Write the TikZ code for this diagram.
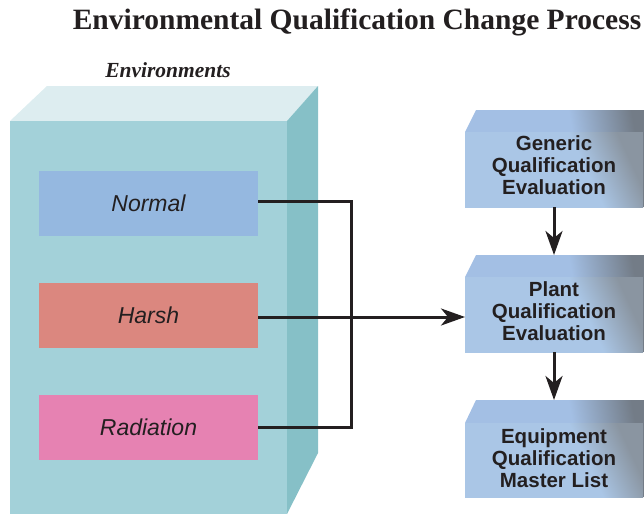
\documentclass[tikz,border=0pt]{standalone}
\usepackage{fontspec}
\setmainfont{Liberation Serif}
\setsansfont{Liberation Sans}
\usetikzlibrary{arrows.meta}
\definecolor{frontc}{HTML}{A3D1D9}
\definecolor{topc}{HTML}{DDEDF0}
\definecolor{sidec}{HTML}{86C0C7}
\definecolor{normalc}{HTML}{95B8E0}
\definecolor{harshc}{HTML}{DB877F}
\definecolor{radc}{HTML}{E682B2}
\definecolor{boxblue}{HTML}{AAC6E6}
\definecolor{boxtop}{HTML}{A3BFE4}
\definecolor{boxgrey}{HTML}{737C87}
\definecolor{boxgreyb}{HTML}{8A95A1}
\definecolor{txt}{HTML}{231F20}
\pgfdeclarehorizontalshading{frontshade}{100bp}{color(0bp)=(boxblue); color(25bp)=(boxblue); color(60bp)=(boxblue); color(75bp)=(boxgreyb); color(100bp)=(boxgreyb)}
\pgfdeclarehorizontalshading{topshade}{100bp}{color(0bp)=(boxtop); color(25bp)=(boxtop); color(55bp)=(boxtop); color(75bp)=(boxgrey); color(100bp)=(boxgrey)}
\tikzset{
  envbox/.style={minimum width=219pt,minimum height=65pt,inner sep=0pt,
    font=\sffamily\itshape\fontsize{23}{26}\selectfont,text=txt},
  lbl/.style={align=center,font=\sffamily\bfseries\fontsize{20.5}{22}\selectfont,text=txt},
  conn/.style={line width=3pt,draw=txt},
  arr/.style={conn,-{Stealth[length=24pt,width=17pt,inset=7pt]}},
}
\newcommand{\procbox}[3]{% top y of top face, front top, front bottom
  \shade[shading=topshade,shading angle=10] (465,#2) -- (476,#1) -- (644,#1) -- (644,#2) -- cycle;
  \shade[shading=frontshade,shading angle=25] (465,#2) rectangle (643,#3);
  \fill[boxgrey] (643,#2) rectangle (644,#3);
}
\begin{document}
\begin{tikzpicture}[x=1pt,y=-1pt]
\useasboundingbox (0,0) rectangle (644,514);
\begin{scope}
\clip (0,0) rectangle (644,514);
% left 3D box
\fill[topc] (10,121) -- (47,86) -- (318,86) -- (287,121) -- cycle;
\fill[sidec] (287,121) -- (318,86) -- (318,453) -- (287,514) -- cycle;
\fill[frontc] (10,121) rectangle (287,514);
\node[envbox,fill=normalc] (normal) at (148.5,203.5) {Normal};
\node[envbox,fill=harshc] (harsh) at (148.5,315.5) {Harsh};
\node[envbox,fill=radc] (rad) at (148.5,427.5) {Radiation};
% process boxes
\procbox{110}{132}{207}
\procbox{255}{277}{352}
\procbox{400}{423}{497}
\end{scope}
\node[font=\bfseries\fontsize{29.5}{32}\selectfont,text=txt] (title) at (357,22) {Environmental Qualification Change Process};
\node[font=\bfseries\itshape\fontsize{21.5}{24}\selectfont,text=txt] (envs) at (168,70) {Environments};
\node[lbl,inner sep=0pt] (gen) at (554,165) {Generic\\Qualification\\Evaluation};
\node[lbl,inner sep=0pt] (plant) at (554,311) {Plant\\Qualification\\Evaluation};
\node[lbl,inner sep=0pt] (eq) at (554,458) {Equipment\\Qualification\\Master List};
\coordinate (j) at (351,317);
\coordinate (genb) at (554,207);
\coordinate (plantt) at (554,255);
\coordinate (plantb) at (554,352);
\coordinate (eqt) at (554,400);
\coordinate (plantw) at (465,317);
\draw[conn] (normal.east |- 0,201) -| (j) |- (rad.east);
\draw[arr] (harsh.east |- 0,317) -- (plantw);
\draw[arr] (genb) -- (plantt);
\draw[arr] (plantb) -- (eqt);
\end{tikzpicture}
\end{document}
